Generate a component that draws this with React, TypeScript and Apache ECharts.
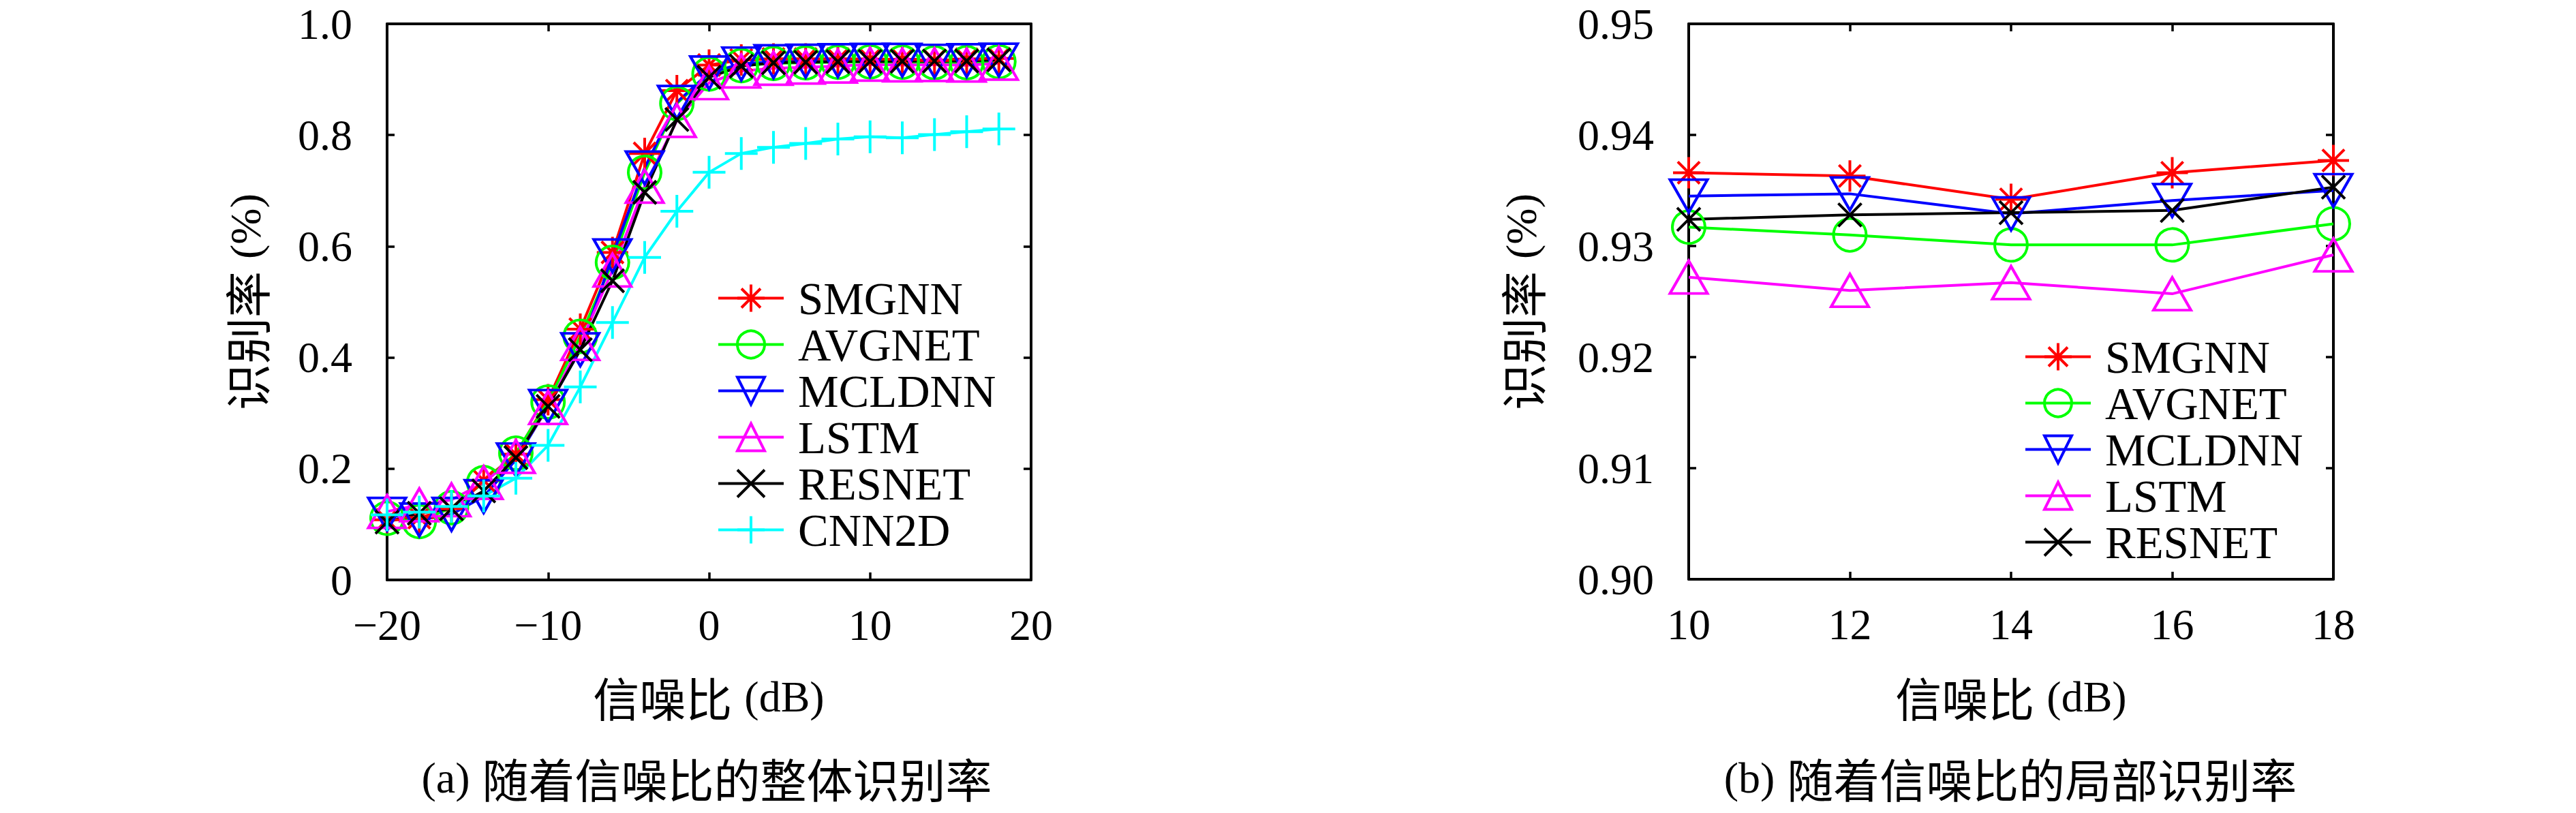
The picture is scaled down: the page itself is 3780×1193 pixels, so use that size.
import React, { useEffect, useRef } from "react";
import * as echarts from "echarts";

// ---------- data ----------
const snr = [-20, -18, -16, -14, -12, -10, -8, -6, -4, -2, 0, 2, 4, 6, 8, 10, 12, 14, 16, 18];
const seriesNames = ["SMGNN", "AVGNET", "MCLDNN", "LSTM", "RESNET", "CNN2D"];
const smgnn = [0.108, 0.112, 0.128, 0.179, 0.226, 0.324, 0.451, 0.589, 0.767, 0.880, 0.926, 0.935, 0.937, 0.937, 0.937, 0.9366, 0.9363, 0.9342, 0.9366, 0.9377];
const avgnet = [0.111, 0.105, 0.130, 0.175, 0.228, 0.320, 0.438, 0.571, 0.733, 0.857, 0.910, 0.925, 0.929, 0.930, 0.931, 0.9317, 0.9310, 0.9301, 0.9301, 0.9320];
const mcldnn = [0.118, 0.108, 0.118, 0.150, 0.216, 0.312, 0.414, 0.583, 0.741, 0.859, 0.912, 0.928, 0.932, 0.933, 0.934, 0.9345, 0.9347, 0.9329, 0.9341, 0.9350];
const lstm = [0.123, 0.135, 0.144, 0.175, 0.222, 0.310, 0.425, 0.557, 0.708, 0.826, 0.894, 0.915, 0.920, 0.922, 0.924, 0.9272, 0.9260, 0.9267, 0.9257, 0.9292];
const resnet = [0.104, 0.120, 0.128, 0.160, 0.220, 0.312, 0.414, 0.538, 0.697, 0.828, 0.904, 0.924, 0.930, 0.931, 0.932, 0.9324, 0.9328, 0.9330, 0.9332, 0.9353];
const cnn2d = [0.117, 0.122, 0.132, 0.151, 0.183, 0.242, 0.347, 0.463, 0.580, 0.663, 0.733, 0.767, 0.778, 0.785, 0.793, 0.797, 0.795, 0.801, 0.806, 0.811];
const leftXTicks = [-20, -10, 0, 10, 20];
const rightXTicks = [10, 12, 14, 16, 18];
const zoomFrom = 10;

// ---------- styling ----------
const LATIN = "'Liberation Serif', 'DejaVu Serif', serif";
const CJK = "'Noto Sans CJK SC', 'Noto Sans CJK JP', sans-serif";
const LAT_SIZE = 64;
const LEG_SIZE = 67;
const CJK_SIZE = 68;
const LW = 4;

const STAR = "path://M0,-10L0,10M-10,0L10,0M-7,-7L7,7M-7,7L7,-7";
const XMARK = "path://M-10,-10L10,10M-10,10L10,-10";
const PLUS = "path://M0,-10L0,10M-10,0L10,0";

const styles: Record<string, any> = {
  SMGNN: { color: "#ff0000", symbol: STAR, size: 46, rotate: 0 },
  AVGNET: { color: "#00ff00", symbol: "circle", size: 48, rotate: 0 },
  MCLDNN: { color: "#0000ff", symbol: "triangle", size: [55, 48], rotate: 180 },
  LSTM: { color: "#ff00ff", symbol: "triangle", size: [55, 48], rotate: 0 },
  RESNET: { color: "#000000", symbol: XMARK, size: 34, rotate: 0 },
  CNN2D: { color: "#00ffff", symbol: PLUS, size: 48, rotate: 0 },
};

const values: Record<string, number[]> = {
  SMGNN: smgnn, AVGNET: avgnet, MCLDNN: mcldnn, LSTM: lstm, RESNET: resnet, CNN2D: cnn2d,
};

function makeSeries(name: string, axisIndex: number, onlyZoom: boolean) {
  const st = styles[name];
  const vals = values[name];
  const data: number[][] = [];
  snr.forEach((x, i) => {
    if (!onlyZoom || x >= zoomFrom) data.push([x, vals[i]]);
  });
  return {
    type: "line",
    name,
    xAxisIndex: axisIndex,
    yAxisIndex: axisIndex,
    data,
    symbol: st.symbol,
    symbolSize: st.size,
    symbolRotate: st.rotate,
    showAllSymbol: true,
    clip: false,
    silent: true,
    lineStyle: { color: st.color, width: LW },
    itemStyle: { color: "rgba(0,0,0,0)", borderColor: st.color, borderWidth: LW },
    emphasis: { disabled: true },
  };
}

function axisCommon() {
  return {
    axisLine: { show: true, onZero: false, lineStyle: { color: "#000", width: 4 } },
    axisTick: { show: true, inside: true, length: 11, lineStyle: { color: "#000", width: 3.5 } },
    splitLine: { show: false },
  };
}

function xAxes(gridIndex: number, min: number, max: number, interval: number, fmt: (v: number) => string) {
  return [
    {
      type: "value", gridIndex, position: "bottom", min, max, interval,
      ...axisCommon(),
      axisLabel: {
        show: true, margin: 34, color: "#000", fontFamily: LATIN, fontSize: LAT_SIZE, lineHeight: 64,
        formatter: fmt,
      },
    },
    {
      type: "value", gridIndex, position: "top", min, max, interval,
      ...axisCommon(),
      axisLabel: { show: false },
    },
  ];
}

function yAxes(gridIndex: number, min: number, max: number, interval: number, fmt: (v: number) => string) {
  return [
    {
      type: "value", gridIndex, position: "left", min, max, interval,
      ...axisCommon(),
      axisLabel: {
        show: true, margin: 51, color: "#000", fontFamily: LATIN, fontSize: LAT_SIZE, formatter: fmt,
      },
    },
    {
      type: "value", gridIndex, position: "right", min, max, interval,
      ...axisCommon(),
      axisLabel: { show: false },
    },
  ];
}

const rich = {
  c: { fontFamily: CJK, fontSize: CJK_SIZE, fill: "#000" },
  l: { fontFamily: LATIN, fontSize: LAT_SIZE, fill: "#000" },
  s: { fontFamily: LATIN, fontSize: LAT_SIZE, fill: "#000", width: 18 },
};

function label(text: string, x: number, y: number, rotation = 0) {
  return {
    type: "text",
    x, y, rotation,
    silent: true,
    style: {
      text,
      rich,
      fill: "#000",
      align: "center",
      verticalAlign: "middle",
      textAlign: "center",
      textVerticalAlign: "middle",
    },
  };
}

function legend(left: number, top: number, names: string[]) {
  return {
    show: true,
    orient: "vertical",
    left, top,
    padding: 0,
    itemWidth: 96,
    itemHeight: 50,
    itemGap: 1,
    selectedMode: false,
    data: names,
    itemStyle: { borderWidth: LW },
    lineStyle: { width: LW },
    textStyle: {
      color: "#000", fontFamily: LATIN, fontSize: LEG_SIZE,
      padding: [0, 0, 0, 16],
    },
  };
}

export default function App() {
  const ref = useRef<HTMLDivElement>(null);
  useEffect(() => {
    if (!ref.current) return;
    const chart = echarts.init(ref.current, undefined, { renderer: "svg" });
    const minus = (v: number) => (v < 0 ? "\u2212" + Math.abs(v) : String(v));
    const option: any = {
      animation: false,
      backgroundColor: "#fff",
      grid: [
        { left: 568, top: 35, width: 945, height: 816, containLabel: false },
        { left: 2478, top: 35, width: 946, height: 815, containLabel: false },
      ],
      xAxis: [
        ...xAxes(0, leftXTicks[0], leftXTicks[leftXTicks.length - 1], 10, minus),
        ...xAxes(1, rightXTicks[0], rightXTicks[rightXTicks.length - 1], 2, (v: number) => String(v)),
      ],
      yAxis: [
        ...yAxes(0, 0, 1, 0.2, (v: number) => (v === 0 ? "0" : v.toFixed(1))),
        ...yAxes(1, 0.9, 0.95, 0.01, (v: number) => v.toFixed(2)),
      ],
      legend: [
        legend(1052, 404, seriesNames),
        legend(2970, 490, seriesNames.slice(0, 5)),
      ],
      series: [
        ...seriesNames.map((n) => makeSeries(n, 0, false)),
        ...seriesNames.slice(0, 5).map((n) => makeSeries(n, 2, true)),
      ],
      graphic: [
        label("{c|信噪比}{s|}{l|(dB)}", 1040, 1022),
        label("{c|信噪比}{s|}{l|(dB)}", 2951, 1022),
        label("{l|(a)}{s|}{c|随着信噪比的整体识别率}", 1037, 1141),
        label("{l|(b)}{s|}{c|随着信噪比的局部识别率}", 2950, 1141),
        label("{c|识别率}{s|}{l|(%)}", 360, 443, Math.PI / 2),
        label("{c|识别率}{s|}{l|(%)}", 2232, 443, Math.PI / 2),
      ],
    };
    chart.setOption(option);
    return () => chart.dispose();
  }, []);
  return (
    <div
      ref={ref}
      style={{ position: "fixed", left: 0, top: 0, width: "3780px", height: "1193px", background: "#fff" }}
    />
  );
}
